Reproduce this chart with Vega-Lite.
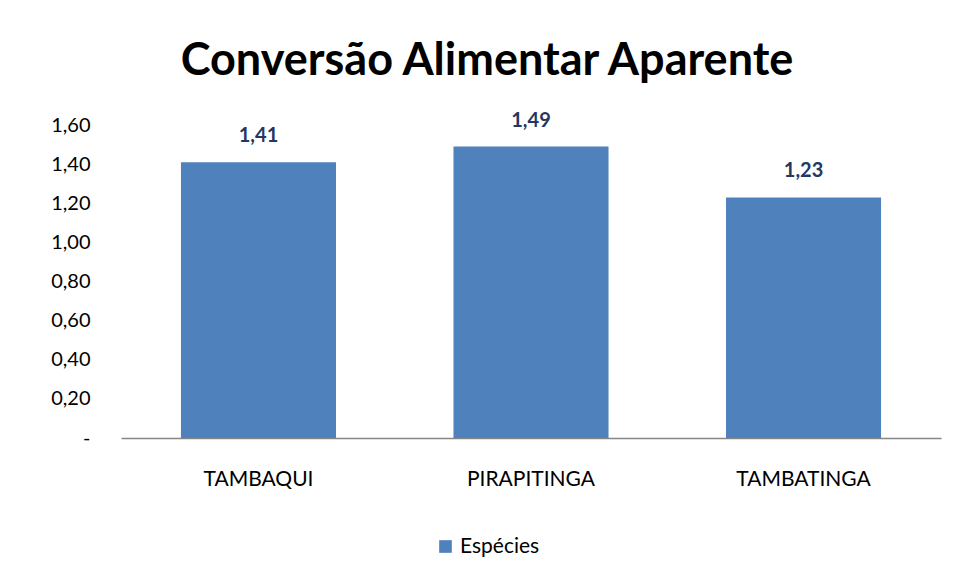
{
  "$schema": "https://vega.github.io/schema/vega-lite/v6.json",
  "autosize": "none",
  "width": 820,
  "height": 313,
  "padding": {"left": 121, "top": 125, "right": 14, "bottom": 144},
  "background": "white",
  "config": {
    "view": {"stroke": null},
    "font": "Lato",
    "locale": {"number": {"decimal": ",", "thousands": ".", "grouping": [3], "currency": ["R$", ""]}}
  },
  "title": {
    "text": "Conversão Alimentar Aparente",
    "font": "Lato",
    "fontSize": 45,
    "fontWeight": "bold",
    "color": "#000000",
    "anchor": "middle",
    "dx": -44,
    "offset": 27
  },
  "data": {
    "values": [
      {"especie": "TAMBAQUI", "valor": 1.41, "serie": "Espécies"},
      {"especie": "PIRAPITINGA", "valor": 1.49, "serie": "Espécies"},
      {"especie": "TAMBATINGA", "valor": 1.23, "serie": "Espécies"}
    ]
  },
  "encoding": {
    "x": {
      "field": "especie",
      "type": "nominal",
      "sort": null,
      "scale": {"paddingInner": 0.431, "paddingOuter": 0.22},
      "axis": {
        "title": null,
        "labelAngle": 0,
        "labelFontSize": 21,
        "labelFontWeight": "normal",
        "labelColor": "#000000",
        "labelPadding": 30,
        "ticks": false,
        "domainColor": "#868686",
        "domainWidth": 1.5,
        "labelFont": "Lato"
      }
    },
    "y": {
      "field": "valor",
      "type": "quantitative",
      "scale": {"domain": [0, 1.6], "nice": false},
      "axis": {
        "title": null,
        "values": [0, 0.2, 0.4, 0.6, 0.8, 1.0, 1.2, 1.4, 1.6],
        "labelExpr": "datum.value == 0 ? '-' : replace(format(datum.value, '.2f'), '.', ',')",
        "labelFontSize": 20,
        "labelColor": "#000000",
        "labelPadding": 31,
        "ticks": false,
        "domain": false,
        "grid": false,
        "labelFont": "Lato"
      }
    }
  },
  "layer": [
    {
      "mark": {"type": "bar", "color": "#4F81BD"},
      "encoding": {
        "color": {
          "field": "serie",
          "type": "nominal",
          "scale": {"range": ["#4F81BD"]},
          "legend": {
            "title": null,
            "orient": "none",
            "legendX": 314,
            "legendY": 411,
            "symbolType": "square",
            "symbolSize": 160,
            "labelFontSize": 21,
            "labelColor": "#000000",
            "labelFont": "Lato",
            "symbolStrokeWidth": 0
          }
        }
      }
    },
    {
      "mark": {
        "type": "text",
        "baseline": "bottom",
        "dy": -16,
        "fontSize": 20,
        "fontWeight": "bold",
        "color": "#1F3864",
        "font": "Lato"
      },
      "encoding": {
        "text": {"field": "valor", "type": "quantitative", "format": ".2f"}
      }
    }
  ]
}
